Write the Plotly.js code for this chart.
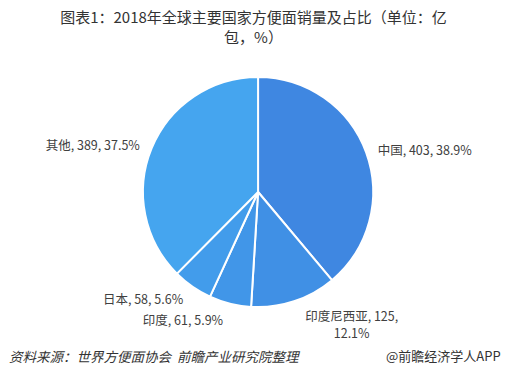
<!DOCTYPE html>
<html>
<head>
<meta charset="utf-8">
<script src="https://cdn.plot.ly/plotly-3.0.1.min.js"></script>
<style>
html,body{margin:0;padding:0;background:#fff;}
#chart{width:507px;height:384px;}
</style>
</head>
<body>
<div id="chart"></div>
<script>
const categories = ["中国", "印度尼西亚", "印度", "日本", "其他"];
const sales = [403, 125, 61, 58, 389];
const sliceColors = ["#3f87e1", "#4090e5", "#4196e8", "#429ceb", "#45a5ef"];
const labelTemplates = [
  "%{label}, %{value}, %{percent:.1%}",
  "%{label}, %{value},<br>%{percent:.1%}",
  "%{label}, %{value}, %{percent:.1%}",
  "%{label}, %{value}, %{percent:.1%}",
  "%{label}, %{value}, %{percent:.1%}"
];
const titleText = "图表1：2018年全球主要国家方便面销量及占比（单位：亿<br>包，%）";
const sourceText = "资料来源：世界方便面协会  前瞻产业研究院整理";
const brandText = "@前瞻经济学人APP";

const font = '"Noto Sans CJK SC", "Noto Sans", sans-serif';

// visible pie (no labels)
const pieTrace = {
  type: "pie",
  labels: categories,
  values: sales,
  sort: false,
  direction: "clockwise",
  rotation: 0,
  marker: {colors: sliceColors, line: {color: "#ffffff", width: 2}},
  textinfo: "none",
  hoverinfo: "none",
  domain: {x: [0.282, 0.736], y: [0.2, 0.8]},
  showlegend: false
};

// transparent, slightly larger pie carrying the outside labels
const labelTrace = {
  type: "pie",
  labels: categories,
  values: sales,
  sort: false,
  direction: "clockwise",
  rotation: 0,
  marker: {colors: categories.map(() => "rgba(0,0,0,0)"), line: {width: 0}},
  textposition: "outside",
  texttemplate: labelTemplates,
  outsidetextfont: {family: font, size: 12.5, color: "#404040"},
  hoverinfo: "none",
  domain: {x: [0.268, 0.750], y: [0.18, 0.82]},
  automargin: false,
  showlegend: false
};

const layout = {
  width: 507, height: 384,
  margin: {l: 0, r: 0, t: 0, b: 0},
  paper_bgcolor: "#ffffff",
  title: {
    text: titleText,
    x: 0.5, xanchor: "center",
    y: 0.94, yanchor: "top",
    font: {family: font, size: 15, color: "#333333"}
  },
  annotations: [
    {text: sourceText, xref: "paper", yref: "paper", x: 0.014, y: 0.073,
     xanchor: "left", yanchor: "middle", showarrow: false,
     font: {family: font, size: 13.5, color: "#333333"}},
    {text: brandText, xref: "paper", yref: "paper", x: 0.992, y: 0.073,
     xanchor: "right", yanchor: "middle", showarrow: false,
     font: {family: font, size: 13, color: "#333333"}}
  ]
};

Plotly.newPlot("chart", [pieTrace, labelTrace], layout, {displayModeBar: false, staticPlot: true}).then(function(){
  document.querySelectorAll(".annotation-text").forEach(function(t){
    if (t.textContent.indexOf("资料来源") === 0) t.style.fontStyle = "italic";
  });
});
</script>
</body>
</html>
